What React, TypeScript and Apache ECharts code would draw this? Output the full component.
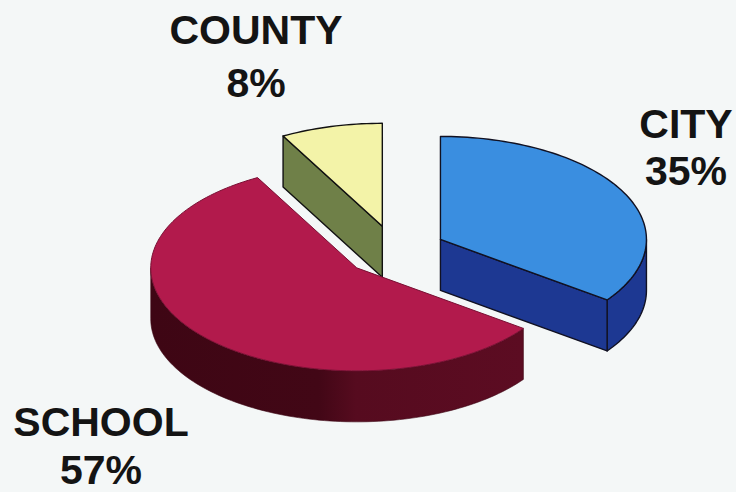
import React, { useEffect, useRef } from 'react';
import * as echarts from 'echarts';

// ---- data ----
const categories = ['CITY', 'SCHOOL', 'COUNTY'];
const shares = [35, 57, 8];

// ---- styles ----
const topColors = ['#3a8ee0', '#b21a4c', '#f3f3a8'];
const sideColors = ['#1d3892', '#4e0a1c', '#6f8048'];
const edgeColors = ['#111122', '#7a1034', '#111111'];
const edgeWidths = [1.4, 1, 1.4];

// label placement (cap-centre of each line)
const labelPos = [
  { x: 686, y1: 124, y2: 171 },
  { x: 101, y1: 422, y2: 470 },
  { x: 256, y1: 30, y2: 83 },
];

const CX = 395, CY = 251, RX = 206, RY = 103, DEPTH = 51, EXPLODE = 51;
const D2R = Math.PI / 180;

function renderItem(params: any, api: any) {
  const i = params.dataIndex;
  const total = shares.reduce((a, b) => a + b, 0);
  let before = 0;
  for (let k = 0; k < i; k++) before += shares[k];
  const a0 = (before / total) * 360;
  const a1 = ((before + (api.value(0) as number)) / total) * 360;
  const mid = (a0 + a1) / 2;
  const ox = EXPLODE * Math.sin(mid * D2R);
  const oy = -EXPLODE * (RY / RX) * Math.cos(mid * D2R);
  const pt = (t: number, dz: number) => [
    CX + ox + RX * Math.sin(t * D2R),
    CY + oy - RY * Math.cos(t * D2R) + dz,
  ];
  const apex = (dz: number) => [CX + ox, CY + oy + dz];
  const arc = (from: number, to: number, dz: number) => {
    const pts: number[][] = [];
    const n = Math.max(2, Math.ceil(Math.abs(to - from) / 1.5));
    for (let s = 0; s <= n; s++) pts.push(pt(from + ((to - from) * s) / n, dz));
    return pts;
  };
  const facing = (deg: number) => -Math.cos(deg * D2R) > 0.02;

  // depth rank: back slices first
  const order = shares
    .map((v, k) => {
      let b = 0;
      for (let q = 0; q < k; q++) b += shares[q];
      const m = ((b + v / 2) / total) * 360;
      return { k, d: -Math.cos(m * D2R) };
    })
    .sort((p, q) => p.d - q.d)
    .map((o) => o.k);
  const rank = order.indexOf(i);
  const baseZ = rank * 10;

  const stroke = edgeColors[i];
  const lw = edgeWidths[i];
  const children: any[] = [];

  // outer curved side
  const s0 = Math.max(a0, 90), s1 = Math.min(a1, 270);
  if (s1 > s0) {
    const top = arc(s0, s1, 0);
    const bot = arc(s0, s1, DEPTH).reverse();
    children.push({
      type: 'polygon',
      z2: baseZ + 1,
      shape: { points: top.concat(bot) },
      style: {
        fill:
          i === 1
            ? new echarts.graphic.LinearGradient(0, 0, 1, 0, [
                { offset: 0, color: '#3e0614' },
                { offset: 0.45, color: '#420716' },
                { offset: 0.55, color: '#560b1f' },
                { offset: 1, color: '#5c0c22' },
              ])
            : sideColors[i],
        stroke: i === 1 ? 'rgba(60,5,18,0.6)' : stroke,
        lineWidth: lw,
        lineJoin: 'round',
      },
    });
  }
  // radial faces
  if (facing(a0 - 90)) {
    children.push({
      type: 'polygon',
      z2: baseZ + 2,
      shape: { points: [apex(0), pt(a0, 0), pt(a0, DEPTH), apex(DEPTH)] },
      style: { fill: sideColors[i], stroke, lineWidth: lw, lineJoin: 'round' },
    });
  }
  if (facing(a1 + 90)) {
    children.push({
      type: 'polygon',
      z2: baseZ + 2,
      shape: { points: [apex(0), pt(a1, 0), pt(a1, DEPTH), apex(DEPTH)] },
      style: { fill: sideColors[i], stroke, lineWidth: lw, lineJoin: 'round' },
    });
  }
  // top face
  children.push({
    type: 'polygon',
    z2: baseZ + 5,
    shape: { points: [apex(0)].concat(arc(a0, a1, 0)) },
    style: { fill: topColors[i], stroke, lineWidth: lw, lineJoin: 'round' },
  });

  return { type: 'group', children };
}

export default function App() {
  const ref = useRef<HTMLDivElement>(null);
  useEffect(() => {
    document.body.style.margin = '0';
    document.body.style.background = '#f4f7f7';
    if (!ref.current) return;
    const chart = echarts.init(ref.current, undefined, { renderer: 'svg' });
    const total = shares.reduce((a, b) => a + b, 0);
    const labels: any[] = [];
    categories.forEach((name, k) => {
      const p = labelPos[k];
      const pct = Math.round((shares[k] / total) * 100) + '%';
      labels.push({
        type: 'text',
        x: p.x,
        y: p.y1,
        z: 10,
        style: {
          text: name,
          fill: '#141414',
          font: 'bold 41px "Liberation Sans", Arial, sans-serif',
          textAlign: 'center',
          textVerticalAlign: 'middle',
        },
      });
      labels.push({
        type: 'text',
        x: p.x,
        y: p.y2,
        z: 10,
        style: {
          text: pct,
          fill: '#141414',
          font: 'bold 41px "Liberation Sans", Arial, sans-serif',
          textAlign: 'center',
          textVerticalAlign: 'middle',
        },
      });
    });
    chart.setOption({
      animation: false,
      backgroundColor: '#f4f7f7',
      graphic: labels,
      series: [
        {
          type: 'custom',
          coordinateSystem: 'none',
          renderItem,
          data: shares.map((v, k) => ({ name: categories[k], value: [v] })),
          silent: true,
        },
      ],
    });
    return () => chart.dispose();
  }, []);
  return <div ref={ref} style={{ width: 736, height: 492 }} />;
}
